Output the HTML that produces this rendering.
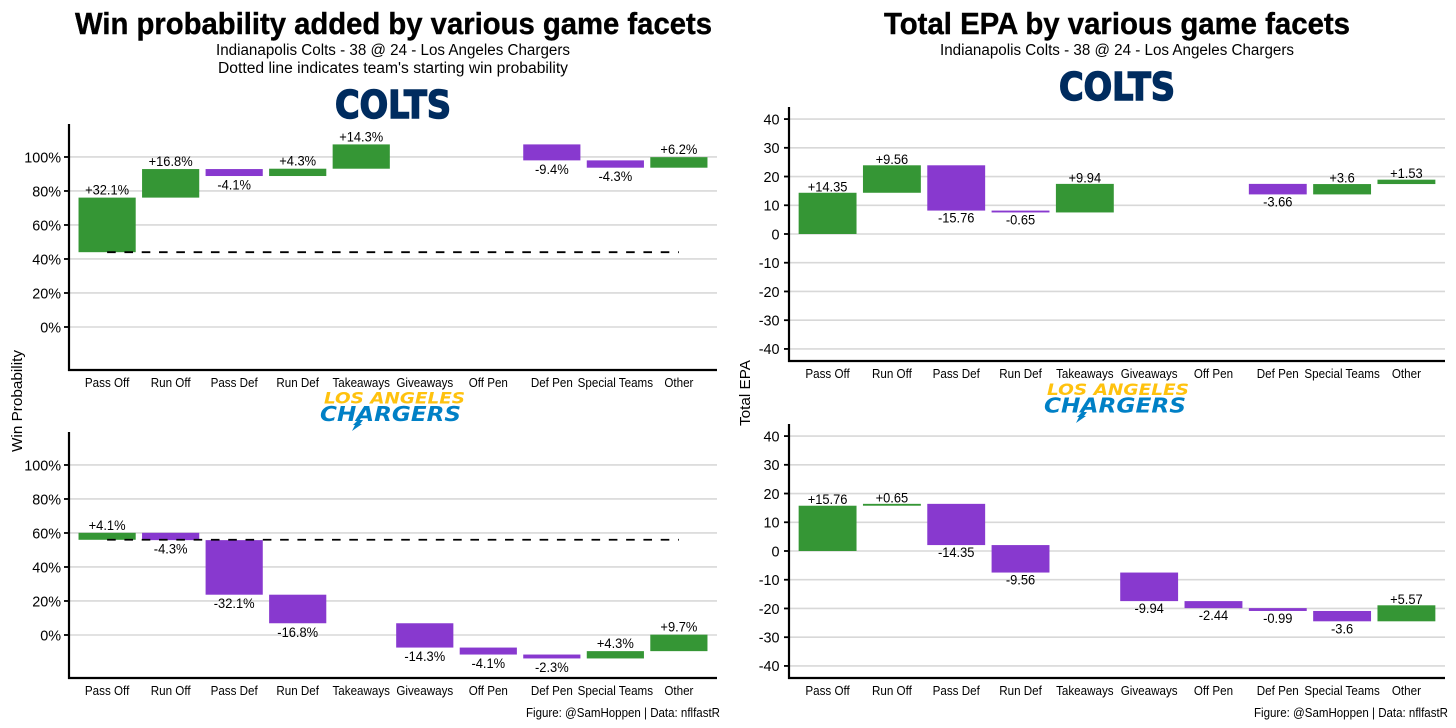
<!DOCTYPE html>
<html lang="en">
<head>
<meta charset="utf-8">
<title>Win probability and EPA by game facets</title>
<style>
html,body{margin:0;padding:0;background:#fff;}
svg{display:block;font-family:"Liberation Sans",sans-serif;}
</style>
</head>
<body>
<svg id="chart" width="1456" height="728" viewBox="0 0 1456 728" xmlns="http://www.w3.org/2000/svg">
  <rect x="0" y="0" width="1456" height="728" fill="#ffffff"/>

  <text x="393.5" y="34" text-anchor="middle" font-size="31" font-weight="700" fill="#000" stroke="#000" stroke-width=".4" textLength="637" lengthAdjust="spacingAndGlyphs">Win probability added by various game facets</text>
  <text x="393" y="55" text-anchor="middle" font-size="15.5" fill="#000" textLength="354" lengthAdjust="spacingAndGlyphs">Indianapolis Colts - 38 @ 24 - Los Angeles Chargers</text>
  <text x="393" y="73" text-anchor="middle" font-size="15.5" fill="#000" textLength="350" lengthAdjust="spacingAndGlyphs">Dotted line indicates team's starting win probability</text>

  <text x="1117" y="34" text-anchor="middle" font-size="31" font-weight="700" fill="#000" stroke="#000" stroke-width=".4" textLength="466" lengthAdjust="spacingAndGlyphs">Total EPA by various game facets</text>
  <text x="1117" y="55" text-anchor="middle" font-size="15.5" fill="#000" textLength="354" lengthAdjust="spacingAndGlyphs">Indianapolis Colts - 38 @ 24 - Los Angeles Chargers</text>

  <text x="393" y="118" text-anchor="middle" font-family="'DejaVu Sans',sans-serif" font-size="38" font-weight="700" fill="#002c5f" stroke="#002c5f" stroke-width="1.5" textLength="116" lengthAdjust="spacingAndGlyphs">COLTS</text>
  <text x="1117" y="100" text-anchor="middle" font-family="'DejaVu Sans',sans-serif" font-size="38" font-weight="700" fill="#002c5f" stroke="#002c5f" stroke-width="1.5" textLength="116" lengthAdjust="spacingAndGlyphs">COLTS</text>

  <text x="394.5" y="403.5" text-anchor="middle" font-family="'DejaVu Sans',sans-serif" font-size="16" font-weight="700" font-style="italic" fill="#ffc20e" textLength="141" lengthAdjust="spacingAndGlyphs">LOS ANGELES</text>
  <text x="390.5" y="421" text-anchor="middle" font-family="'DejaVu Sans',sans-serif" font-size="20" font-weight="700" font-style="italic" fill="#0080c6" textLength="141" lengthAdjust="spacingAndGlyphs">CHARGERS</text>
  <polygon points="358,420 363,420 360,424 362,424 352,431 355,425 353,425" fill="#0080c6"/>

  <text x="1118" y="395" text-anchor="middle" font-family="'DejaVu Sans',sans-serif" font-size="16" font-weight="700" font-style="italic" fill="#ffc20e" textLength="142" lengthAdjust="spacingAndGlyphs">LOS ANGELES</text>
  <text x="1115" y="412.5" text-anchor="middle" font-family="'DejaVu Sans',sans-serif" font-size="20" font-weight="700" font-style="italic" fill="#0080c6" textLength="142" lengthAdjust="spacingAndGlyphs">CHARGERS</text>
  <polygon points="1082,412 1087,412 1084,416 1086,416 1076,423 1079,417 1077,417" fill="#0080c6"/>

  <text transform="translate(22,401) rotate(-90)" text-anchor="middle" font-size="15" fill="#000" textLength="102" lengthAdjust="spacingAndGlyphs">Win Probability</text>
  <text transform="translate(750,393) rotate(-90)" text-anchor="middle" font-size="15" fill="#000" textLength="66" lengthAdjust="spacingAndGlyphs">Total EPA</text>

  <text x="720" y="717" text-anchor="end" font-size="12.5" fill="#000" textLength="194" lengthAdjust="spacingAndGlyphs">Figure: @SamHoppen | Data: nflfastR</text>
  <text x="1448" y="717" text-anchor="end" font-size="12.5" fill="#000" textLength="194" lengthAdjust="spacingAndGlyphs">Figure: @SamHoppen | Data: nflfastR</text>
</svg>

<script>
const categories = ["Pass Off","Run Off","Pass Def","Run Def","Takeaways","Giveaways","Off Pen","Def Pen","Special Teams","Other"];

const wpTicks = [0,20,40,60,80,100];
const epaTicks = [-40,-30,-20,-10,0,10,20,30,40];

const coltsWpStart = 44;
const chargersWpStart = 56;

const coltsWpValues = [32.1,16.8,-4.1,4.3,14.3,0,0,-9.4,-4.3,6.2];
const chargersWpValues = [4.1,-4.3,-32.1,-16.8,0,-14.3,-4.1,-2.3,4.3,9.7];
const coltsEpaValues = [14.35,9.56,-15.76,-0.65,9.94,0,0,-3.66,3.6,1.53];
const chargersEpaValues = [15.76,0.65,-14.35,-9.56,0,-9.94,-2.44,-0.99,-3.6,5.57];

const svg = document.getElementById('chart');
const NS = 'http://www.w3.org/2000/svg';
const GREEN = '#359635';
const PURPLE = '#8839cf';

function make(parent, tag, attrs, text) {
  const el = document.createElementNS(NS, tag);
  for (const k in attrs) el.setAttribute(k, attrs[k]);
  if (text !== undefined) el.textContent = text;
  parent.appendChild(el);
  return el;
}

function squeeze(el, factor) {
  const w = el.getComputedTextLength();
  el.setAttribute('textLength', (w * factor).toFixed(1));
  el.setAttribute('lengthAdjust', 'spacingAndGlyphs');
}

function drawPanel(p) {
  const g = make(svg, 'g', {});
  
  

  const plotW = p.right - p.left;
  const band = plotW / (categories.length - 1 + 1.2);
  const xScale = i => p.left + band * (0.6 + i);
  const yScale = v => p.bottom - (v - p.min) / (p.max - p.min) * (p.bottom - p.top);
  const barW = band * 0.9;

  p.ticks.forEach(t => {
    const y = yScale(t);
    const grid = make(g, 'line', {x1: p.left + 1, x2: p.right, y1: y, y2: y, stroke: '#d8d8d8', 'stroke-width': 1.6});
    
    
    const tick = make(g, 'line', {x1: p.left - 5, x2: p.left, y1: y, y2: y, stroke: '#000', 'stroke-width': 1.8});
    
    
    const lab = make(g, 'text', {x: p.left - p.tickGap, y: y + 5.3, 'text-anchor': 'end', 'font-size': 15, fill: '#000'}, t + p.tickSuffix);
    
    
    squeeze(lab, 0.96);
  });

  let level = p.start;
  p.values.forEach((v, i) => {
    if (v === 0) return;
    const from = level;
    const to = level + v;
    level = to;
    const yTop = yScale(Math.max(from, to));
    const yBot = yScale(Math.min(from, to));
    const cx = xScale(i);
    const bar = make(g, 'rect', {x: cx - barW / 2, y: yTop, width: barW, height: Math.max(yBot - yTop, 1), fill: v > 0 ? GREEN : PURPLE});
    
    
    const txt = (v > 0 ? '+' : '') + v + p.valueSuffix;
    const lab = make(g, 'text', {x: cx, y: v > 0 ? yTop - p.gapUp : yBot + p.gapDown, 'text-anchor': 'middle', 'font-size': 14, fill: '#000'}, txt);
    
    
    squeeze(lab, 0.92);
  });

  if (p.dashed) {
    const dash = make(g, 'line', {x1: xScale(0), x2: xScale(categories.length - 1), y1: yScale(p.start), y2: yScale(p.start), stroke: '#000', 'stroke-width': 1.8, 'stroke-dasharray': '8.6 8.7'});
    
    
  }

  categories.forEach((c, i) => {
    const lab = make(g, 'text', {x: xScale(i), y: p.labelY, 'text-anchor': 'middle', 'font-size': 12.5, fill: '#000'}, c);
    
    
    squeeze(lab, 0.93);
  });

  const yAxis = make(g, 'line', {x1: p.left, x2: p.left, y1: p.top, y2: p.bottom + 1, stroke: '#000', 'stroke-width': 2.2});
  
  
  const xAxis = make(g, 'line', {x1: p.left - 1, x2: p.right, y1: p.bottom, y2: p.bottom, stroke: '#000', 'stroke-width': 2.2});
  
  
}

drawPanel({name:'colts-win-probability', left:69, right:717, top:124, bottom:370, min:-25.3, max:119.4,
  ticks:wpTicks, tickSuffix:'%', valueSuffix:'%', start:coltsWpStart, values:coltsWpValues, dashed:true, labelY:387, tickGap:8, gapUp:3, gapDown:13.5});
drawPanel({name:'chargers-win-probability', left:69, right:717, top:432, bottom:678, min:-25.3, max:119.4,
  ticks:wpTicks, tickSuffix:'%', valueSuffix:'%', start:chargersWpStart, values:chargersWpValues, dashed:true, labelY:695, tickGap:8, gapUp:3, gapDown:13.5});
drawPanel({name:'colts-epa', left:789, right:1445, top:107, bottom:361, min:-44.2, max:44.2,
  ticks:epaTicks, tickSuffix:'', valueSuffix:'', start:0, values:coltsEpaValues, dashed:false, labelY:378, tickGap:9.5, gapUp:1.5, gapDown:12});
drawPanel({name:'chargers-epa', left:789, right:1445, top:424, bottom:678, min:-44.2, max:44.2,
  ticks:epaTicks, tickSuffix:'', valueSuffix:'', start:0, values:chargersEpaValues, dashed:false, labelY:695, tickGap:9.5, gapUp:1.5, gapDown:12});
</script>
</body>
</html>
